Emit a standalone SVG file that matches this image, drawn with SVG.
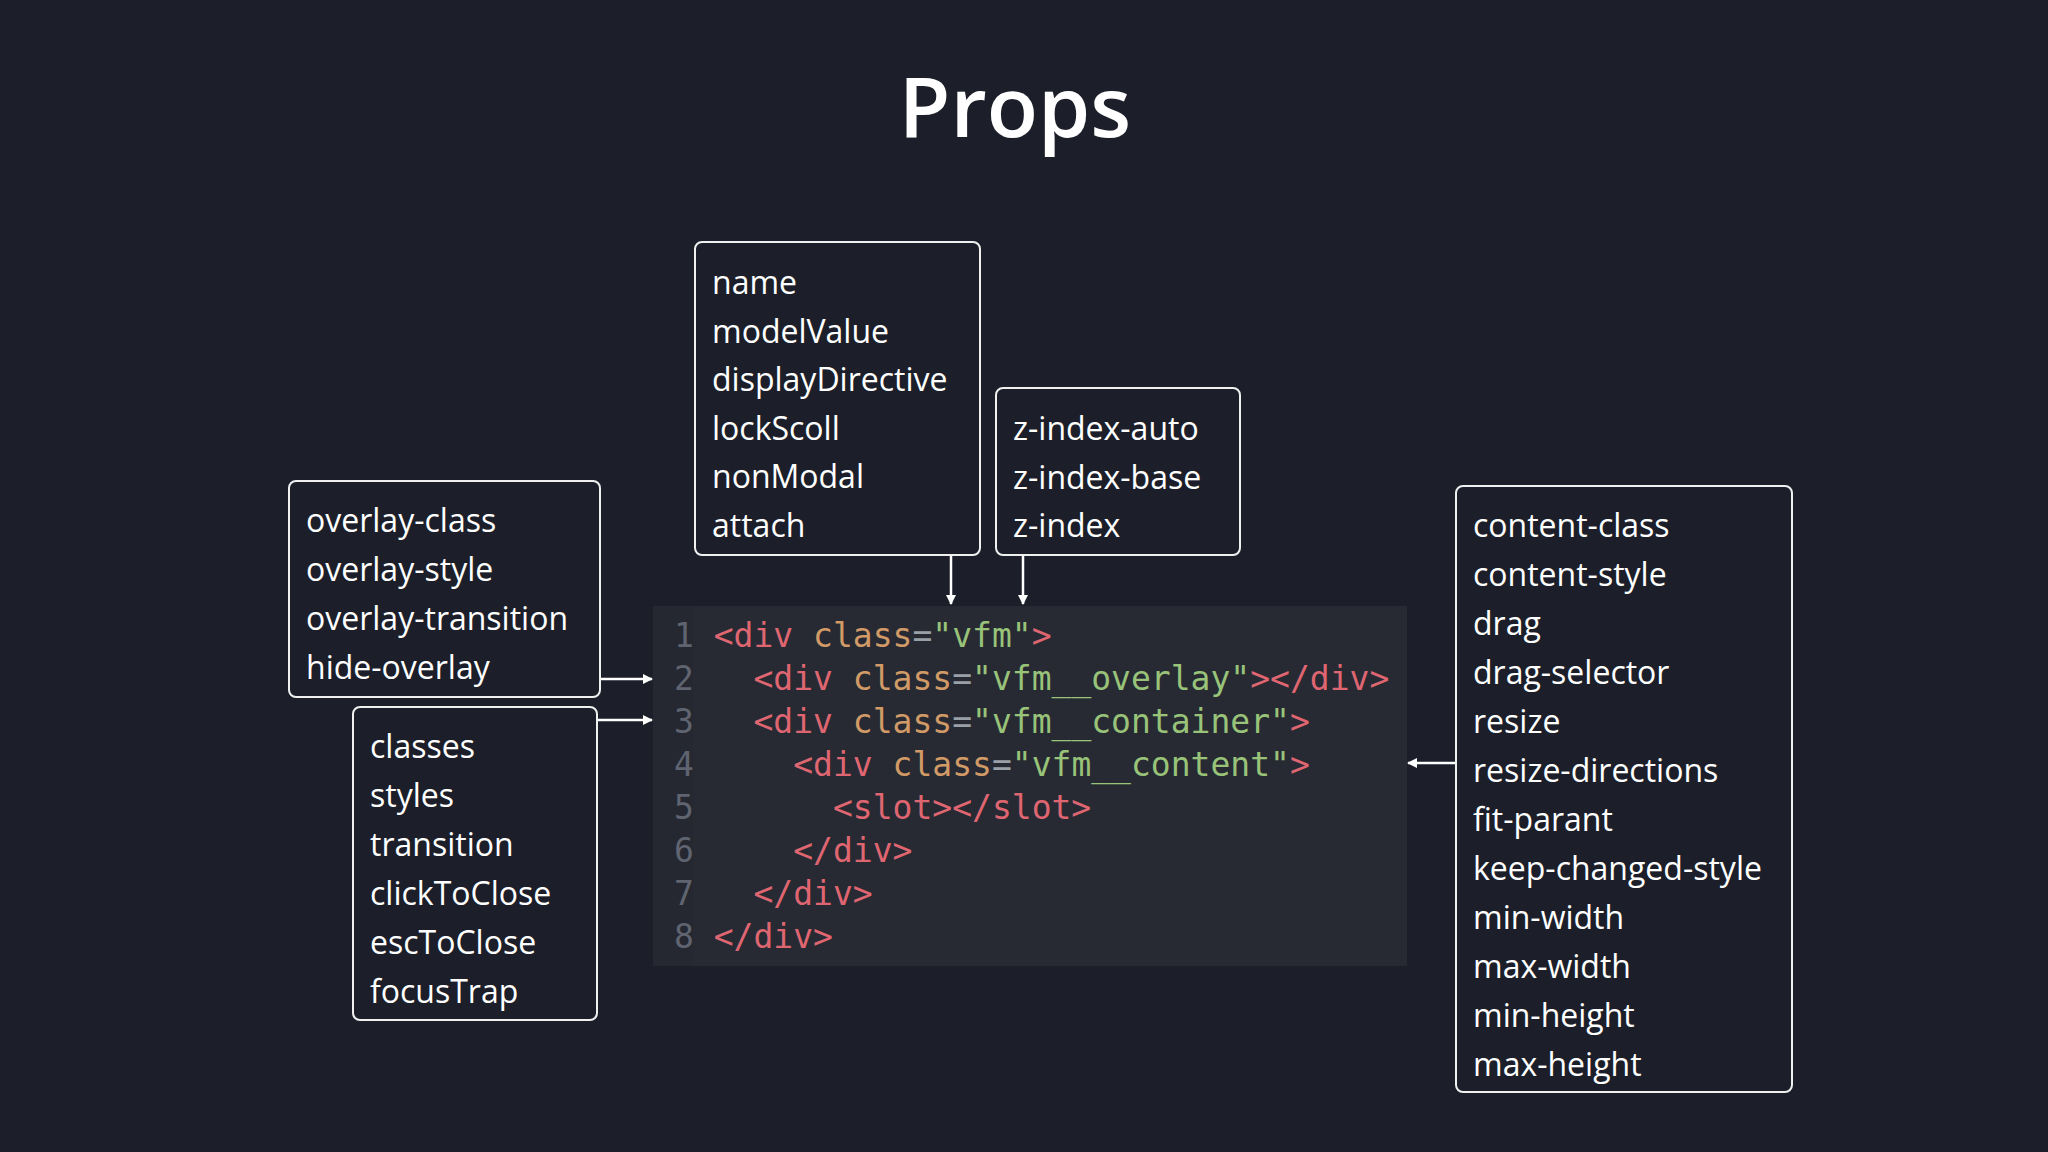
<svg xmlns="http://www.w3.org/2000/svg" width="2048" height="1152" viewBox="0 0 2048 1152">
<defs>
<marker id="ah" markerWidth="10" markerHeight="10" refX="9" refY="5" orient="auto" markerUnits="userSpaceOnUse"><path d="M0,0 L10,5 L0,10 z" fill="#fff"/></marker>
</defs>
<style>
.box{fill:#1c1f2a;stroke:#f0f0f0;stroke-width:2}
.t{font-family:"Open Sans","Noto Sans",sans-serif;font-size:32px;fill:#fff}
.c{font-family:"DejaVu Sans Mono",monospace;font-size:33px;white-space:pre}
.n{fill:#5f6470}.tg{fill:#df6671}.a{fill:#d19a66}.e{fill:#9aa0a8}.s{fill:#98c379}
.ln{stroke:#fff;stroke-width:2.5;fill:none}
</style>
<rect width="2048" height="1152" fill="#1c1f2a"/>
<text x="1015" y="137" text-anchor="middle" font-family="Open Sans,sans-serif" font-weight="600" font-size="84" fill="#fff">Props</text>
<g id="code">
<rect x="653" y="606" width="754" height="360" fill="#272a33"/>
<rect x="653" y="606" width="40" height="360" fill="#252831"/>
<text class="c" x="674" y="647"><tspan class="n">1 </tspan><tspan class="tg">&lt;div </tspan><tspan class="a">class</tspan><tspan class="e">=</tspan><tspan class="s">"vfm"</tspan><tspan class="tg">&gt;</tspan></text>
<text class="c" x="674" y="690"><tspan class="n">2 </tspan><tspan class="tg">  &lt;div </tspan><tspan class="a">class</tspan><tspan class="e">=</tspan><tspan class="s">"vfm__overlay"</tspan><tspan class="tg">&gt;&lt;/div&gt;</tspan></text>
<text class="c" x="674" y="733"><tspan class="n">3 </tspan><tspan class="tg">  &lt;div </tspan><tspan class="a">class</tspan><tspan class="e">=</tspan><tspan class="s">"vfm__container"</tspan><tspan class="tg">&gt;</tspan></text>
<text class="c" x="674" y="776"><tspan class="n">4 </tspan><tspan class="tg">    &lt;div </tspan><tspan class="a">class</tspan><tspan class="e">=</tspan><tspan class="s">"vfm__content"</tspan><tspan class="tg">&gt;</tspan></text>
<text class="c" x="674" y="819"><tspan class="n">5 </tspan><tspan class="tg">      &lt;slot&gt;&lt;/slot&gt;</tspan></text>
<text class="c" x="674" y="862"><tspan class="n">6 </tspan><tspan class="tg">    &lt;/div&gt;</tspan></text>
<text class="c" x="674" y="905"><tspan class="n">7 </tspan><tspan class="tg">  &lt;/div&gt;</tspan></text>
<text class="c" x="674" y="948"><tspan class="n">8 </tspan><tspan class="tg">&lt;/div&gt;</tspan></text>
</g>
<g id="box-main">
<rect class="box" x="695" y="242" width="285" height="313" rx="7"/>
<text class="t" x="712" y="294">name</text><text class="t" x="712" y="343">modelValue</text><text class="t" x="712" y="391">displayDirective</text><text class="t" x="712" y="440">lockScoll</text><text class="t" x="712" y="488">nonModal</text><text class="t" x="712" y="537">attach</text>
</g>
<g id="box-zindex">
<rect class="box" x="996" y="388" width="244" height="167" rx="7"/>
<text class="t" x="1013" y="440">z-index-auto</text><text class="t" x="1013" y="489">z-index-base</text><text class="t" x="1013" y="537">z-index</text>
</g>
<g id="box-overlay">
<rect class="box" x="289" y="481" width="311" height="216" rx="7"/>
<text class="t" x="306" y="532">overlay-class</text><text class="t" x="306" y="581">overlay-style</text><text class="t" x="306" y="630">overlay-transition</text><text class="t" x="306" y="679">hide-overlay</text>
</g>
<g id="box-container">
<rect class="box" x="353" y="707" width="244" height="313" rx="7"/>
<text class="t" x="370" y="758">classes</text><text class="t" x="370" y="807">styles</text><text class="t" x="370" y="856">transition</text><text class="t" x="370" y="905">clickToClose</text><text class="t" x="370" y="954">escToClose</text><text class="t" x="370" y="1003">focusTrap</text>
</g>
<g id="box-content">
<rect class="box" x="1456" y="486" width="336" height="606" rx="7"/>
<text class="t" x="1473" y="537">content-class</text><text class="t" x="1473" y="586">content-style</text><text class="t" x="1473" y="635">drag</text><text class="t" x="1473" y="684">drag-selector</text><text class="t" x="1473" y="733">resize</text><text class="t" x="1473" y="782">resize-directions</text><text class="t" x="1473" y="831">fit-parant</text><text class="t" x="1473" y="880">keep-changed-style</text><text class="t" x="1473" y="929">min-width</text><text class="t" x="1473" y="978">max-width</text><text class="t" x="1473" y="1027">min-height</text><text class="t" x="1473" y="1076">max-height</text>
</g>
<g id="connectors">
<path class="ln" d="M951,556 V604" marker-end="url(#ah)"/>
<path class="ln" d="M1023,556 V604" marker-end="url(#ah)"/>
<path class="ln" d="M601,679 H652" marker-end="url(#ah)"/>
<path class="ln" d="M598,720 H652" marker-end="url(#ah)"/>
<path class="ln" d="M1455,763 H1408" marker-end="url(#ah)"/>
</g>
</svg>
